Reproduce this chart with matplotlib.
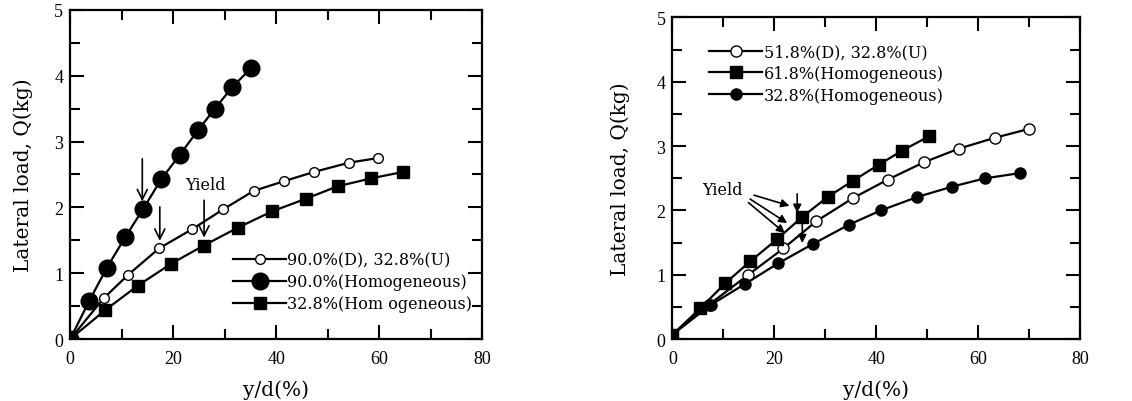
import matplotlib.pyplot as plt
from matplotlib.ticker import MultipleLocator

plt.rcParams['font.family'] = ['Liberation Serif', 'DejaVu Serif']

# left panel
hom90_x = [0, 3.7, 7.1, 10.7, 14.2, 17.7, 21.3, 24.8, 28.1, 31.5, 35.2]
hom90_y = [0, 0.58, 1.08, 1.55, 1.98, 2.43, 2.80, 3.17, 3.50, 3.83, 4.12]
hom33_x = [0, 6.8, 13.1, 19.5, 25.9, 32.5, 39.2, 45.7, 51.9, 58.4, 64.7]
hom33_y = [0, 0.44, 0.81, 1.14, 1.42, 1.69, 1.94, 2.13, 2.32, 2.44, 2.54]
du90_x = [0, 6.5, 11.3, 17.3, 23.7, 29.7, 35.6, 41.6, 47.4, 54.2, 59.8]
du90_y = [0, 0.62, 0.98, 1.38, 1.67, 1.97, 2.25, 2.40, 2.54, 2.68, 2.75]
left_labels = ['90.0%(D), 32.8%(U)', '90.0%(Homogeneous)', '32.8%(Hom ogeneous)']

# right panel
du52_x = [0, 7.1, 14.9, 21.8, 28.2, 35.4, 42.3, 49.4, 56.2, 63.3, 70.1]
du52_y = [0.07, 0.53, 1.00, 1.41, 1.83, 2.19, 2.48, 2.75, 2.96, 3.13, 3.27]
hom62_x = [0, 5.5, 10.4, 15.3, 20.5, 25.5, 30.5, 35.4, 40.5, 45.1, 50.3]
hom62_y = [0.07, 0.48, 0.87, 1.21, 1.55, 1.90, 2.21, 2.46, 2.71, 2.93, 3.15]
homr33_x = [0, 7.5, 14.3, 20.8, 27.6, 34.7, 40.9, 48.1, 54.9, 61.4, 68.2]
homr33_y = [0.07, 0.53, 0.86, 1.18, 1.48, 1.78, 2.00, 2.21, 2.37, 2.50, 2.58]
right_labels = ['51.8%(D), 32.8%(U)', '61.8%(Homogeneous)', '32.8%(Homogeneous)']

xticks = [0, 20, 40, 60, 80]
yticks = [0, 1, 2, 3, 4, 5]

fig = plt.figure(figsize=(11.32, 4.02), dpi=100)
ax1 = fig.add_axes([0.062, 0.154, 0.364, 0.819])
ax2 = fig.add_axes([0.594, 0.154, 0.360, 0.80])

lab_font = dict(family=['DejaVu Serif'], size=14.5)


def style(ax, ylx, xly):
    ax.set_xlim(0, 80)
    ax.set_ylim(0, 5)
    ax.set_xticks(xticks)
    ax.set_yticks(yticks)
    ax.xaxis.set_minor_locator(MultipleLocator(10))
    ax.yaxis.set_minor_locator(MultipleLocator(0.5))
    ax.tick_params(which='both', direction='in', top=True, right=True, width=1.5, labelsize=13)
    ax.tick_params(which='major', length=10)
    ax.tick_params(which='minor', length=7)
    ax.tick_params(axis='x', pad=8)
    ax.tick_params(axis='y', pad=5)
    for s in ax.spines.values():
        s.set_linewidth(1.6)
    ax.set_xlabel('y/d(%)', fontdict=lab_font)
    ax.set_ylabel('Lateral load, Q(kg)', fontdict=lab_font)
    ax.xaxis.set_label_coords(0.5, xly)
    ax.xaxis.label.set_va('center')
    ax.yaxis.set_label_coords(ylx, 0.5)
    ax.yaxis.label.set_va('center')


lk = dict(color='black', lw=1.6)
leg_font = dict(family=['DejaVu Serif'], size=11.5)
ax1.plot(du90_x, du90_y, marker='o', ms=7, mfc='white', mec='black', label=left_labels[0], **lk)
ax1.plot(hom90_x, hom90_y, marker='o', ms=12, mfc='black', mec='black', label=left_labels[1], **lk)
ax1.plot(hom33_x, hom33_y, marker='s', ms=8.5, mfc='black', mec='black', label=left_labels[2], **lk)
ax1.legend(loc='upper left', bbox_to_anchor=(0.38, 0.285), frameon=False, prop=leg_font,
           handlelength=3.3, handletextpad=0.1, labelspacing=0.3, borderaxespad=0)

arr = dict(arrowstyle='->', color='black', lw=1.2, mutation_scale=18)
ax1.annotate('', xy=(14.0, 2.05), xytext=(14.0, 2.78), arrowprops=arr)
ax1.annotate('', xy=(17.4, 1.45), xytext=(17.4, 2.05), arrowprops=arr)
ax1.annotate('', xy=(26.0, 1.50), xytext=(26.0, 2.15), arrowprops=arr)
ax1.text(26.3, 2.35, 'Yield', fontdict=leg_font, ha='center', va='center')
style(ax1, -0.114, -0.151)

ax2.plot(du52_x, du52_y, marker='o', ms=8, mfc='white', mec='black', label=right_labels[0], **lk)
ax2.plot(hom62_x, hom62_y, marker='s', ms=8, mfc='black', mec='black', label=right_labels[1], **lk)
ax2.plot(homr33_x, homr33_y, marker='o', ms=8, mfc='black', mec='black', label=right_labels[2], **lk)
ax2.legend(loc='upper left', bbox_to_anchor=(0.075, 0.94), frameon=False, prop=leg_font,
           handlelength=3.3, handletextpad=0.1, labelspacing=0.3, borderaxespad=0)
arr2 = dict(arrowstyle='-|>', color='black', lw=1.2, mutation_scale=12)
ax2.annotate('', xy=(22.5, 1.62), xytext=(14.5, 2.15), arrowprops=arr2)
ax2.annotate('', xy=(23.0, 1.78), xytext=(14.8, 2.2), arrowprops=arr2)
ax2.annotate('', xy=(23.5, 2.06), xytext=(15.5, 2.25), arrowprops=arr2)
ax2.annotate('', xy=(24.5, 1.92), xytext=(24.5, 2.3), arrowprops=arr2)
ax2.annotate('', xy=(25.5, 1.45), xytext=(25.5, 1.88), arrowprops=arr2)
ax2.text(9.8, 2.32, 'Yield', fontdict=leg_font, ha='center', va='center')
style(ax2, -0.127, -0.155)

fig.savefig('out.png', dpi=100)
